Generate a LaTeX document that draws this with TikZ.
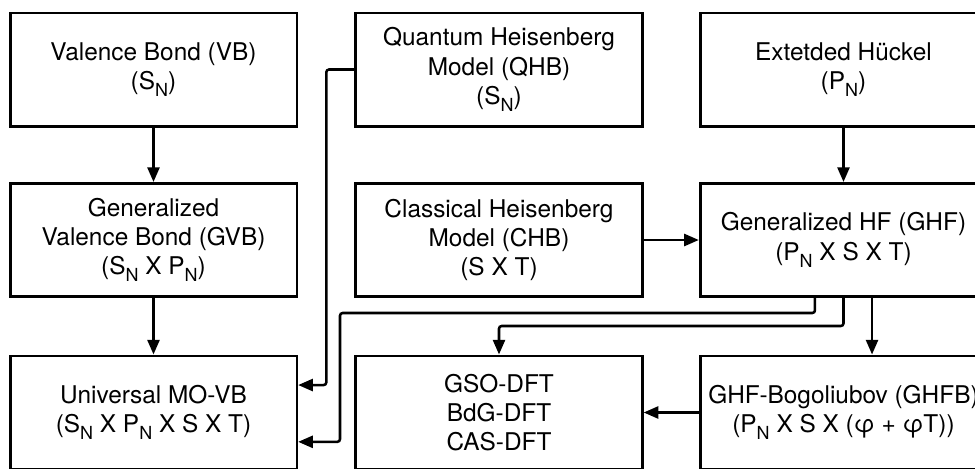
\documentclass[tikz,border=0pt]{standalone}
\usepackage{fontspec}
\setmainfont{TeX Gyre Heros}
\usepackage{tikz}
\usetikzlibrary{arrows.meta, positioning}

\newcommand{\lo}[1]{\raisebox{-0.55ex}{\fontsize{13.5}{13.5}\selectfont #1}}

\tikzset{
    model/.style={draw, line width=2pt, minimum width=215pt, minimum height=85pt,
        inner sep=0pt, align=center, font=\fontsize{18.3}{22}\selectfont},
    link/.style={line width=1.9pt, rounded corners=2pt,
        -{Triangle[length=11pt,width=9pt]}}
}

\begin{document}
\begin{tikzpicture}[x=0.75pt,y=-0.75pt]
        \clip (0,0) rectangle (975,468);

        % top row
        \node[model] (vb) at (153.5,69.5) {Valence Bond (VB)\\(S\lo{N})};
        \node[model] (qhb) at (499,69.5) {Quantum Heisenberg\\Model (QHB)\\(S\lo{N})};
        \node[model] (eh) at (843.5,69.5) {Extetded Hückel\\(P\lo{N})};

        % middle row
        \node[model] (gvb) at (153.5,240) {Generalized\\Valence Bond (GVB)\\(S\lo{N} X P\lo{N})};
        \node[model] (chb) at (499,240) {Classical Heisenberg\\Model (CHB)\\(S X T)};
        \node[model] (ghf) at (843.5,240) {Generalized HF (GHF)\\(P\lo{N} X S X T)};

        % bottom row
        \node[model] (movb) at (153.5,412.5) {Universal MO-VB\\(S\lo{N} X P\lo{N} X S X T)};
        \node[model] (gso) at (499,412.5) {GSO-DFT\\BdG-DFT\\CAS-DFT};
        \node[model] (ghfb) at (843.5,412.5) {GHF-Bogoliubov (GHFB)\\(P\lo{N} X S X (φ + φT))};

        \draw[link] (vb) -- (gvb);
        \draw[link] (gvb) -- (movb);
        \draw[link] (eh) -- (ghf);
        \draw[link] (chb) -- (ghf);
        \draw[link] (ghfb) -- (gso);

        \draw[link] (qhb.west) -- ++(-28,0) |- ([yshift=20.6pt]movb.east);
        \draw[link] ([xshift=-21.4pt]ghf.south) |- (340,313) |- ([yshift=-22pt]movb.east);
        \draw[link] (ghf.south) -- ++(0,28) -| (gso.north);
        \draw[link] ([xshift=21.4pt]ghf.south) -- ([xshift=21.4pt]ghfb.north);
\end{tikzpicture}
\end{document}
